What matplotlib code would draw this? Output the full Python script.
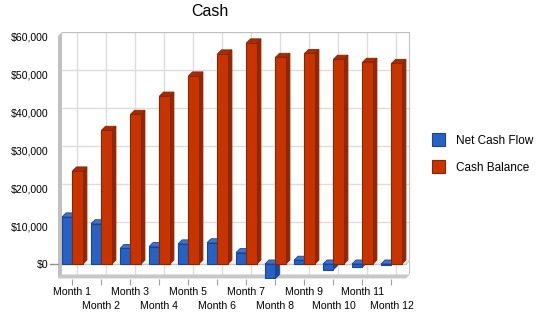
import matplotlib
matplotlib.use('Agg')
import matplotlib.pyplot as plt
from matplotlib.patches import Polygon, Rectangle
from matplotlib.transforms import ScaledTranslation
import numpy as np

# ---- data ----
months = ["Month 1", "Month 2", "Month 3", "Month 4", "Month 5", "Month 6",
          "Month 7", "Month 8", "Month 9", "Month 10", "Month 11", "Month 12"]
net_cash_flow = [12400, 10600, 4100, 4600, 5300, 5600, 3000, -3800, 1000, -1500, -800, -300]
cash_balance = [24500, 35200, 39400, 44200, 49500, 55300, 58200, 54400, 55400, 53900, 53100, 52800]
series_names = ["Net Cash Flow", "Cash Balance"]
yticks = [0, 10000, 20000, 30000, 40000, 50000, 60000]
ytick_labels = ["$0", "$10,000", "$20,000", "$30,000", "$40,000", "$50,000", "$60,000"]
title = "Cash"

plt.rcParams['font.family'] = ['Liberation Sans', 'DejaVu Sans']

W, H = 550, 318
fig = plt.figure(figsize=(W / 100, H / 100), dpi=100)
fig.patch.set_facecolor('white')

DX = 0.138      # 3D depth in category units
DY = 1050       # 3D depth in value units
Y0, Y1 = -5000, 60000
FLOOR = -3800

ax = fig.add_axes([58 / W, (H - 279) / H, 352 / W, 247 / H])
ax.set_xlim(-0.5 - DX, 11.5)
ax.set_ylim(Y0, Y1)
for s in ax.spines.values():
    s.set_visible(False)
ax.set_facecolor('none')

x = np.arange(len(months))

# back wall grid
grid_c = '#DCDCDC'
ax.hlines(yticks, -0.5, 11.5, colors=grid_c, lw=1, zorder=0.5)
ax.vlines(x, FLOOR, Y1, colors=grid_c, lw=1, zorder=0.5)
ax.plot([-0.5, 11.5], [Y1, Y1], color='#C0C0C0', lw=1.5, zorder=0.6, solid_capstyle='butt')
ax.plot([11.5, 11.5], [FLOOR, Y1], color='#C0C0C0', lw=1.5, zorder=0.6, solid_capstyle='butt')

# zero shelf
ax.add_patch(Polygon([(-0.5, 0), (11.5, 0), (11.5 - DX, -DY), (-0.5 - DX, -DY)],
                     closed=True, fc='#F4F4F4', ec='none', zorder=0.8))
ax.plot([-0.5 - DX, 11.5 - DX], [-DY, -DY], color='#C8C8C8', lw=1, zorder=0.9)
ax.plot([11.5 - DX, 11.5], [-DY, 0], color='#C8C8C8', lw=1, zorder=0.9)

# floor slab
ax.add_patch(Polygon([(-0.5 - DX, FLOOR - DY), (11.5 - DX, FLOOR - DY), (11.5, FLOOR), (-0.5, FLOOR)],
                     closed=True, fc='#C8C8C8', ec='none', zorder=1))
# left wall slab
ax.add_patch(Polygon([(-0.5 - DX, FLOOR - DY), (-0.5, FLOOR), (-0.5, Y1), (-0.5 - DX, Y1 - DY)],
                     closed=True, fc='#C0C0C0', ec='none', zorder=1))

# bars
w = 0.36
styles = [
    dict(front='#2662C4', side='#1B4793', top='#3A74D2', edge='#1A4590'),
    dict(front='#C83400', side='#932700', top='#A82C00', edge='#8C2400'),
]
for k, (vals, offs) in enumerate([(net_cash_flow, -DX - w), (cash_balance, -DX)]):
    st = styles[k]
    z = 3 + k
    bars = ax.bar(x + offs, vals, width=w, bottom=-DY, align='edge',
                  color=st['front'], edgecolor=st['edge'], linewidth=0.8, zorder=z + 0.2)
    for p in bars:
        x0, bw = p.get_x(), p.get_width()
        y0, h = p.get_y(), p.get_height()
        lo, hi = min(y0, y0 + h), max(y0, y0 + h)
        ax.add_patch(Polygon([(x0 + bw, lo), (x0 + bw + DX, lo + DY), (x0 + bw + DX, hi + DY), (x0 + bw, hi)],
                             closed=True, fc=st['side'], ec=st['edge'], lw=0.6, zorder=z))
        ax.add_patch(Polygon([(x0, hi), (x0 + DX, hi + DY), (x0 + bw + DX, hi + DY), (x0 + bw, hi)],
                             closed=True, fc=st['top'], ec=st['edge'], lw=0.6, zorder=z + 0.1))

# y ticks (labels aligned with front plane)
ax.set_yticks(yticks, ytick_labels)
ax.tick_params(axis='y', length=0, pad=7, labelsize=7.6, labelcolor='black')
off_y = ScaledTranslation(0, -4 / 100, fig.dpi_scale_trans)
for lab in ax.get_yticklabels():
    lab.set_transform(lab.get_transform() + off_y)
ax.plot([-0.5 - DX - 8 / 29, -0.5 - DX], [-DY, -DY], color='#909090', lw=1, clip_on=False, zorder=1)

# x ticks (alternating rows)
ax.set_xticks(x - DX, months)
ax.tick_params(axis='x', length=4.5, width=0.8, color='#A0A0A0', pad=1.5, labelsize=7.6)
off_x = ScaledTranslation(0, -14 / 100, fig.dpi_scale_trans)
for i, lab in enumerate(ax.get_xticklabels()):
    if i % 2 == 1:
        lab.set_transform(lab.get_transform() + off_x)

# title
fig.text(210 / W, 1 - 12 / H, title, ha='center', va='center', fontsize=11.5)

# legend
for i, (name, st) in enumerate(zip(series_names, styles)):
    ytop = [133, 160][i]
    fig.add_artist(Rectangle((432 / W, 1 - (ytop + 13) / H), 13 / W, 13 / H,
                             transform=fig.transFigure, fc=st['front'], ec=st['edge'], lw=0.8))
    fig.text(456 / W, 1 - (ytop + 7.5) / H, name, ha='left', va='center', fontsize=8.5)

fig.savefig('out.png', dpi=100)
